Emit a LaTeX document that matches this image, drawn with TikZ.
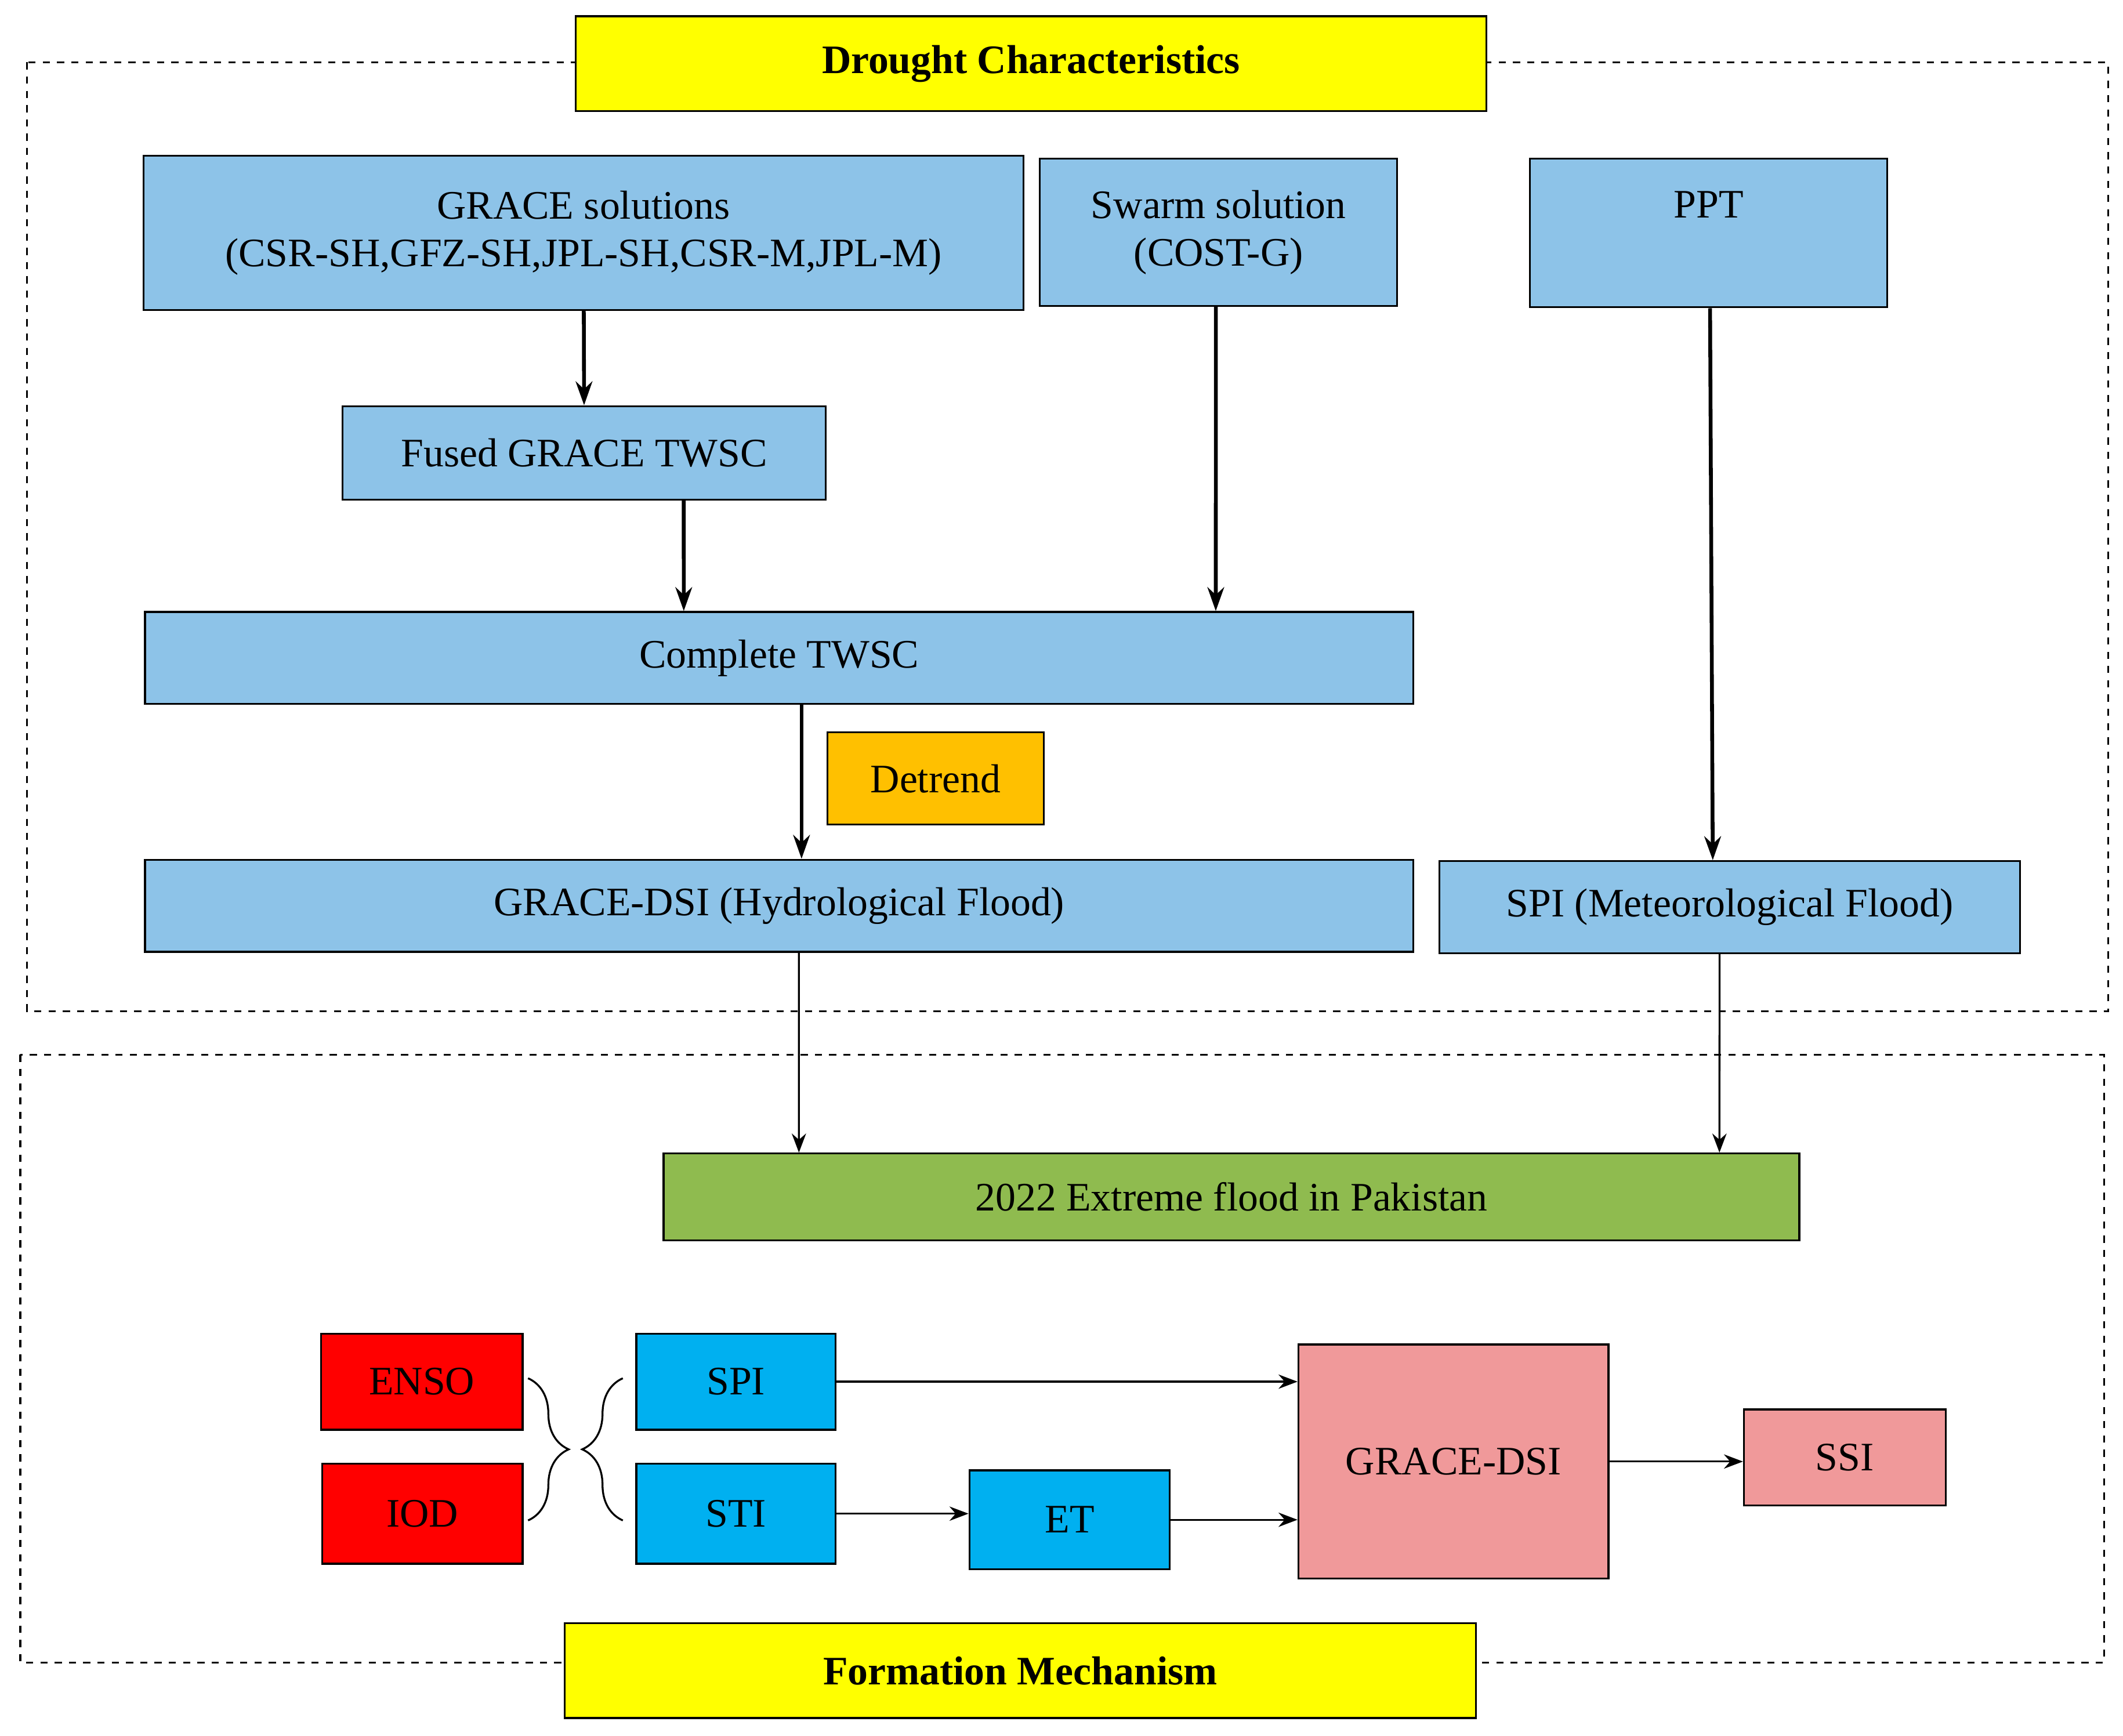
\documentclass[tikz,border=0pt]{standalone}
\usepackage{fontspec}
\setmainfont{Liberation Serif}
\usepackage{xcolor}
\usetikzlibrary{positioning, arrows.meta, decorations.pathreplacing}
\definecolor{skyfill}{HTML}{8DC3E8}
\definecolor{titlefill}{HTML}{FFFF00}
\definecolor{trendfill}{HTML}{FFC000}
\definecolor{floodfill}{HTML}{8FBB4F}
\definecolor{causefill}{HTML}{FF0000}
\definecolor{indexfill}{HTML}{00B0F0}
\definecolor{dsifill}{HTML}{F0999A}

\begin{document}
\begin{tikzpicture}[
        x=0.02cm, y=-0.02cm,
        every node/.style={font=\fontsize{17}{20}\selectfont},
        box/.style={rectangle, draw, line width=0.8pt, text centered, inner sep=2pt},
        data/.style={box, fill=skyfill},
        title/.style={box, fill=titlefill, font=\fontsize{17}{20}\selectfont\bfseries},
        frame/.style={draw, dashed, line width=0.8pt},
        thick arrow/.style={-{Stealth[length=10pt,width=7pt]}, line width=1.6pt},
        thin arrow/.style={-{Stealth[length=8pt,width=6pt]}, line width=0.8pt}
    ]
        \useasboundingbox (0,0) rectangle (1568,1282);
        % Frames
        \draw[frame] (20,46) rectangle (1557,747);
        \draw[frame] (15,779) rectangle (1554,1228);

        % Drought characteristics
        \node (drought) [title, minimum width=13.46cm, minimum height=1.4cm] at (761.5,47) {Drought Characteristics};
        \node (grace) [data, minimum width=13cm, minimum height=2.28cm, align=center] at (431,172) {GRACE solutions\\(CSR-SH,GFZ-SH,JPL-SH,CSR-M,JPL-M)};
        \node (swarm) [data, minimum width=5.28cm, minimum height=2.18cm, align=center] at (900,171.5) {Swarm solution\\(COST-G)};
        \node (ppt) [data, minimum width=5.28cm, minimum height=2.2cm, anchor=center] at (1262,172) {};
        \node at ([yshift=-0.38cm]ppt.north) [anchor=north] {PPT};
        \node (fused) [data, minimum width=7.14cm, minimum height=1.38cm] at (431.5,334.5) {Fused GRACE TWSC};
        \node (complete) [data, minimum width=18.74cm, minimum height=1.36cm] at (575.5,486) {Complete TWSC};
        \node (detrend) [box, fill=trendfill, minimum width=3.2cm, minimum height=1.36cm] at (691,575) {Detrend};
        \node (hydro) [data, minimum width=18.74cm, minimum height=1.36cm] at (575.5,669) {GRACE-DSI (Hydrological Flood)};
        \node (meteo) [data, minimum width=8.58cm, minimum height=1.36cm] at (1277.5,670) {SPI (Meteorological Flood)};

        % Formation mechanism
        \node (flood) [box, fill=floodfill, minimum width=16.78cm, minimum height=1.28cm] at (909.5,884) {2022 Extreme flood in Pakistan};
        \node (enso) [box, fill=causefill, minimum width=2.98cm, minimum height=1.42cm] at (311.5,1020.5) {ENSO};
        \node (iod) [box, fill=causefill, minimum width=2.96cm, minimum height=1.48cm] at (312,1118) {IOD};
        \node (spi) [box, fill=indexfill, minimum width=2.94cm, minimum height=1.42cm] at (543.5,1020.5) {SPI};
        \node (sti) [box, fill=indexfill, minimum width=2.94cm, minimum height=1.48cm] at (543.5,1118) {STI};
        \node (et) [box, fill=indexfill, minimum width=2.96cm, minimum height=1.46cm] at (790,1122.5) {ET};
        \node (dsi) [box, fill=dsifill, minimum width=4.58cm, minimum height=3.46cm] at (1073.5,1079.5) {GRACE-DSI};
        \node (ssi) [box, fill=dsifill, minimum width=2.98cm, minimum height=1.42cm] at (1362.5,1076.5) {SSI};
        \node (formation) [title, minimum width=13.46cm, minimum height=1.4cm] at (753.5,1234) {Formation Mechanism};

        % Braces
        \coordinate (bracea) at (390,1018);
        \coordinate (braceb) at (390,1123);
        \coordinate (bracec) at (460,1123);
        \coordinate (braced) at (460,1018);
        \draw[line width=0.8pt, decorate, decoration={brace, amplitude=0.6cm}] (bracea) -- (braceb);
        \draw[line width=0.8pt, decorate, decoration={brace, amplitude=0.6cm}] (bracec) -- (braced);

        % Arrows
        \draw[thick arrow] (grace) -- (fused);
        \draw[thick arrow] ([xshift=1.47cm]fused.south) -- ([xshift=-1.41cm]complete.north);
        \draw[thick arrow] ([xshift=-0.04cm]swarm.south) -- ([xshift=6.45cm]complete.north);
        \draw[thick arrow] ([xshift=0.33cm]complete.south) -- ([xshift=0.33cm]hydro.north);
        \draw[thick arrow] ([xshift=0.02cm]ppt.south) -- ([xshift=-0.25cm]meteo.north);
        \draw[thin arrow] ([xshift=0.29cm]hydro.south) -- ([xshift=-6.39cm]flood.north);
        \draw[thin arrow] ([xshift=-0.15cm]meteo.south) -- ([xshift=7.21cm]flood.north);
        \draw[thin arrow] (spi.east) -- (spi.east -| dsi.west);
        \draw[thin arrow] (sti.east) -- (sti.east -| et.west);
        \draw[thin arrow] (et.east) -- (et.east -| dsi.west);
        \draw[thin arrow] (dsi.east) -- (dsi.east -| ssi.west);
    \end{tikzpicture}
\end{document}
